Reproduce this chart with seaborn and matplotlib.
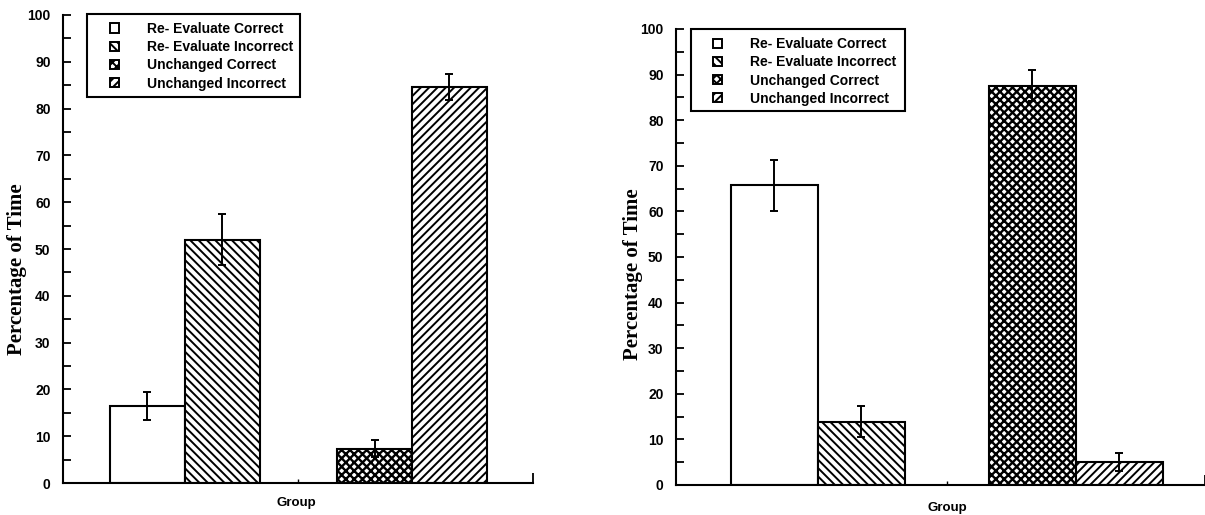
import matplotlib
matplotlib.use("Agg")
import matplotlib.pyplot as plt
import numpy as np
import pandas as pd
import seaborn as sns
from matplotlib.patches import Patch, Rectangle

# ---- data -------------------------------------------------------------
groups = ["Re- Evaluate", "Unchanged"]
outcomes = ["Correct", "Incorrect"]
series_labels = ["Re- Evaluate Correct", "Re- Evaluate Incorrect",
                 "Unchanged Correct", "Unchanged Incorrect"]

left_means = [16.4, 52.0, 7.3, 84.6]
left_errors = [3.0, 5.4, 1.8, 2.7]

right_means = [65.7, 13.9, 87.6, 5.1]
right_errors = [5.6, 3.4, 3.5, 2.0]

y_ticks = [0, 10, 20, 30, 40, 50, 60, 70, 80, 90, 100]
y_label = "Percentage of Time"
x_label = "Group"

# ---- style ------------------------------------------------------------
sns.set_theme(style="white")
plt.rcParams["font.family"] = ["Liberation Sans", "DejaVu Sans"]
plt.rcParams["hatch.linewidth"] = 1.4
plt.rcParams["hatch.color"] = "black"

hatches = ["", "\\\\\\\\", "xxxx", "////"]
hatch_widths = [1.4, 1.4, 1.7, 1.4]

fig = plt.figure(figsize=(12.05, 5.15), dpi=100)
ax_left = fig.add_axes([0.0523, 0.0621, 0.390, 0.9088])
ax_right = fig.add_axes([0.561, 0.0583, 0.439, 0.8854])


def frame(means):
    rows = []
    for g_i, g in enumerate(groups):
        for o_i, o in enumerate(outcomes):
            rows.append({"Group": g, "Outcome": o,
                         "Percentage": means[g_i * 2 + o_i]})
    return pd.DataFrame(rows)


def draw_panel(ax, means, errors, width, xlim, legend_box, legend_anchor,
               ylabel_xy, xlabel_xy):
    df = frame(means)
    sns.barplot(data=df, x="Group", y="Percentage", hue="Outcome",
                order=groups, hue_order=outcomes,
                palette=["white", "white"], saturation=1,
                edgecolor="black", linewidth=1.5, width=width,
                errorbar=None, legend=False, ax=ax, zorder=2)

    centers = [0.0] * 4
    for o_i, cont in enumerate(ax.containers):
        for g_i, bar in enumerate(cont):
            k = g_i * 2 + o_i
            bar.set_hatch(hatches[k])
            if hasattr(bar, "set_hatch_linewidth"):
                bar.set_hatch_linewidth(hatch_widths[k])
            centers[k] = bar.get_x() + bar.get_width() / 2

    ax.errorbar(centers, means, yerr=errors, fmt="none", ecolor="black",
                elinewidth=1.4, capsize=3, capthick=1.4, zorder=5)

    ax.set_xlim(*xlim)
    ax.set_ylim(0, 100)
    ax.set_yticks(y_ticks)
    ax.set_yticklabels([str(t) for t in y_ticks])
    ax.set_yticks([t + 5 for t in y_ticks[:-1]], minor=True)
    ax.set_xticks([xlim[1]])
    ax.set_xticklabels([""])
    ax.set_xticks([-0.12, 0.5, 1.12], minor=True)

    ax.tick_params(axis="y", which="both", direction="in", length=6,
                   width=1.3, color="black", left=True, right=False,
                   labelsize=10, pad=9)
    ax.tick_params(axis="x", which="major", direction="in", length=7,
                   width=1.3, color="black", bottom=True)
    ax.tick_params(axis="x", which="minor", direction="in", length=3,
                   width=1.0, color="black", bottom=True)
    for lab in ax.get_yticklabels():
        lab.set_fontweight("bold")
        lab.set_color("black")

    for side in ["top", "right"]:
        ax.spines[side].set_visible(False)
    for side in ["left", "bottom"]:
        ax.spines[side].set_visible(True)
        ax.spines[side].set_linewidth(1.5)
        ax.spines[side].set_color("black")

    ax.set_ylabel(y_label, fontsize=15, fontweight="bold",
                  family=["Liberation Serif", "DejaVu Serif"], color="black")
    ax.yaxis.set_label_coords(*ylabel_xy)
    ax.set_xlabel(x_label, fontsize=9.5, fontweight="bold", color="black")
    ax.xaxis.set_label_coords(*xlabel_xy)

    # legend frame and entries
    x0, y0, w, h = legend_box
    ax.add_patch(Rectangle((x0, y0), w, h, transform=ax.transAxes,
                           facecolor="white", edgecolor="black",
                           linewidth=1.5, zorder=6, clip_on=False))
    handles = [Patch(facecolor="white", edgecolor="black", linewidth=1.4,
                     hatch=hatches[k]) for k in range(4)]
    leg = ax.legend(handles, series_labels, loc="upper left",
                    bbox_to_anchor=legend_anchor, frameon=False,
                    borderpad=0, borderaxespad=0, handlelength=0.65,
                    handleheight=0.65, handletextpad=2.0, labelspacing=0.3,
                    prop={"size": 10, "weight": "bold"})
    leg.set_zorder(7)
    for t in leg.get_texts():
        t.set_color("black")


draw_panel(ax_left, left_means, left_errors, width=0.66,
           xlim=(-0.537, 1.533),
           legend_box=(0.051, 0.825, 0.453, 0.177),
           legend_anchor=(0.100, 0.985),
           ylabel_xy=(-0.077, 0.457), xlabel_xy=(0.496, -0.030))

draw_panel(ax_right, right_means, right_errors, width=0.674,
           xlim=(-0.548, 1.50),
           legend_box=(0.028, 0.820, 0.405, 0.180),
           legend_anchor=(0.070, 0.982),
           ylabel_xy=(-0.062, 0.463), xlabel_xy=(0.512, -0.037))

fig.savefig("out.png", dpi=100, facecolor="white")
